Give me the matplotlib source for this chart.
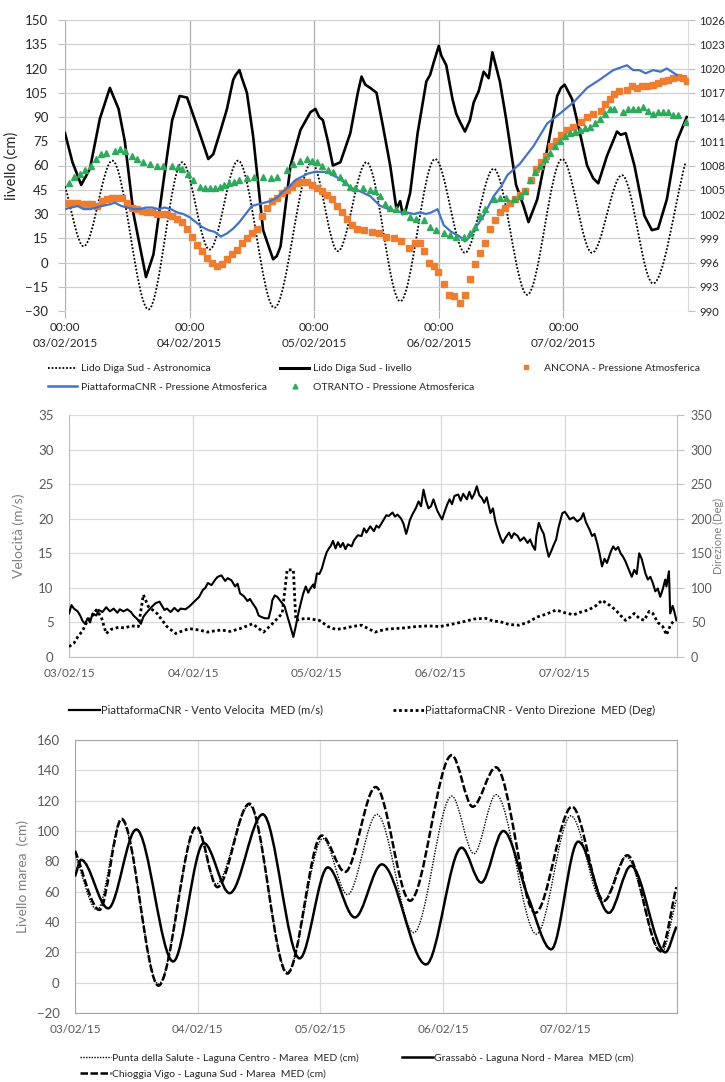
import numpy as np
import matplotlib
matplotlib.use("Agg")
import matplotlib.pyplot as plt
from matplotlib.path import Path
from matplotlib.patches import PathPatch
from matplotlib.lines import Line2D

plt.rcParams['font.family'] = ['Lato', 'DejaVu Sans']

# ---------------- DATA (x = days since 03/02/2015 00:00) ----------------
# Top panel
astro_t = [0.00, 0.15, 0.38, 0.67, 0.94, 1.16, 1.39, 1.68, 1.98, 2.19, 2.42,
           2.69, 2.97, 3.21, 3.44, 3.71, 3.99, 4.23, 4.47, 4.72, 4.98]
astro_v = [47, 10, 63, -29, 62, 8, 63, -28, 62, 7, 62,
           -24, 64, 6, 58, -20, 64, 6, 54, -13, 62]

liv_t = [0.00, 0.06, 0.13, 0.20, 0.28, 0.36, 0.43, 0.48, 0.55, 0.65, 0.71, 0.79,
         0.86, 0.92, 0.98, 1.08, 1.15, 1.19, 1.25, 1.30, 1.33, 1.35, 1.37, 1.40, 1.42,
         1.46, 1.51, 1.59, 1.67, 1.70, 1.73, 1.81, 1.89, 1.97, 2.01, 2.04, 2.07, 2.11,
         2.15, 2.21, 2.29, 2.35, 2.38, 2.41, 2.45, 2.50, 2.55, 2.61, 2.66, 2.69, 2.71,
         2.73, 2.77, 2.83, 2.90, 2.93, 2.96, 3.00, 3.02, 3.06, 3.11, 3.14, 3.17, 3.21,
         3.25, 3.28, 3.32, 3.36, 3.40, 3.43, 3.49, 3.54, 3.62, 3.68, 3.72, 3.79, 3.87,
         3.95, 3.98, 4.01, 4.07, 4.13, 4.19, 4.24, 4.28, 4.35, 4.43, 4.46, 4.50, 4.57,
         4.65, 4.71, 4.76, 4.83, 4.91, 4.99]
liv_v = [80, 62, 48, 58, 89, 108, 95, 75, 30, -9, 5, 50,
         88, 103, 102, 80, 64, 67, 82, 95, 106, 113, 116, 119, 114,
         105, 78, 20, 2, 4, 10, 60, 82, 93, 95, 90, 88, 75,
         60, 62, 80, 105, 115, 110, 108, 105, 85, 60, 33, 38, 30,
         31, 43, 80, 112, 116, 124, 134, 128, 122, 101, 92, 87, 81,
         88, 99, 106, 118, 114, 130, 112, 89, 48, 35, 25, 39, 70,
         103, 108, 110, 101, 81, 60, 52, 49, 66, 81, 79, 80, 60,
         29, 20, 21, 39, 75, 90]

ancona_t = [0.02, 0.06, 0.10, 0.14, 0.18, 0.22, 0.26, 0.30, 0.34, 0.38, 0.42, 0.46,
            0.50, 0.54, 0.58, 0.62, 0.66, 0.70, 0.74, 0.78, 0.82, 0.86, 0.90, 0.94,
            0.98, 1.02, 1.06, 1.10, 1.14, 1.18, 1.22, 1.26, 1.30, 1.34, 1.38, 1.42,
            1.46, 1.50, 1.54, 1.58, 1.62, 1.66, 1.70, 1.74, 1.78, 1.82, 1.86, 1.90,
            1.94, 1.98, 2.02, 2.06, 2.10, 2.14, 2.18, 2.22, 2.26, 2.30, 2.34, 2.40,
            2.46, 2.52, 2.58, 2.64, 2.70, 2.76, 2.81, 2.85, 2.88, 2.92, 2.96, 2.99,
            3.04, 3.08, 3.12, 3.17, 3.21, 3.25, 3.29, 3.33, 3.37, 3.41, 3.45, 3.49,
            3.53, 3.57, 3.61, 3.65, 3.69, 3.74, 3.78, 3.82, 3.86, 3.90, 3.94, 3.98,
            4.03, 4.08, 4.14, 4.19, 4.24, 4.30, 4.33, 4.37, 4.41, 4.45, 4.51, 4.55,
            4.59, 4.63, 4.67, 4.72, 4.76, 4.80, 4.84, 4.88, 4.92, 4.96, 4.995]
ancona_p = [1003.4, 1003.4, 1003.4, 1003.2, 1003.2, 1003.2, 1003.0, 1003.6, 1003.8, 1004.0, 1004.0, 1004.0,
            1003.4, 1002.8, 1002.6, 1002.4, 1002.2, 1002.2, 1002.0, 1002.0, 1002.0, 1001.8, 1001.4, 1001.0,
            1000.2, 999.2, 998.2, 997.4, 996.6, 996.0, 995.6, 995.8, 996.4, 997.0, 997.6, 998.4,
            999.0, 999.6, 1000.2, 1001.8, 1002.8, 1003.6, 1004.0, 1004.6, 1005.0, 1005.4, 1005.8, 1006.0,
            1006.0, 1005.6, 1005.2, 1004.8, 1004.4, 1003.8, 1003.0, 1002.2, 1001.4, 1000.6, 1000.2, 1000.0,
            999.8, 999.6, 999.2, 999.0, 998.6, 997.8, 998.4, 998.4, 997.4, 996.0, 995.6, 994.8,
            993.4, 992.0, 991.8, 991.0, 992.0, 994.0, 995.8, 997.2, 998.4, 1000.2, 1001.2, 1002.2,
            1002.8, 1003.4, 1003.8, 1004.4, 1004.8, 1006.2, 1007.6, 1008.4, 1009.2, 1010.4, 1011.0, 1011.8,
            1012.4, 1012.8, 1013.4, 1014.0, 1014.4, 1014.8, 1015.6, 1016.2, 1016.8, 1017.2, 1017.4, 1017.8,
            1017.6, 1017.8, 1017.8, 1018.0, 1018.2, 1018.4, 1018.6, 1018.8, 1019.0, 1018.8, 1018.4]

cnr_t = [0.00, 0.05, 0.10, 0.15, 0.20, 0.25, 0.30, 0.36, 0.40, 0.45, 0.50, 0.55, 0.60,
         0.65, 0.70, 0.75, 0.80, 0.85, 0.90, 0.95, 1.00, 1.05, 1.10, 1.15, 1.20, 1.25,
         1.30, 1.35, 1.40, 1.45, 1.50, 1.55, 1.60, 1.65, 1.70, 1.75, 1.80, 1.85, 1.90,
         1.95, 2.00, 2.05, 2.10, 2.15, 2.20, 2.25, 2.30, 2.37, 2.45, 2.53, 2.60, 2.64,
         2.70, 2.74, 2.80, 2.85, 2.90, 2.94, 2.99, 3.04, 3.10, 3.17, 3.21, 3.25, 3.30,
         3.36, 3.44, 3.50, 3.55, 3.65, 3.76, 3.87, 3.97, 4.08, 4.19, 4.29, 4.40, 4.51,
         4.56, 4.61, 4.66, 4.72, 4.78, 4.83, 4.87, 4.91]
cnr_p = [1002.6, 1002.8, 1003.0, 1002.6, 1002.6, 1002.8, 1003.0, 1003.2, 1003.4, 1003.0, 1002.8, 1002.6, 1002.6,
         1002.8, 1002.8, 1002.6, 1002.8, 1002.6, 1002.2, 1002.0, 1001.6, 1001.0, 1000.4, 1000.0, 999.8, 999.2,
         999.6, 1000.2, 1001.0, 1002.0, 1003.0, 1003.2, 1003.4, 1003.6, 1004.0, 1004.8, 1005.4, 1006.2, 1006.6,
         1007.0, 1007.2, 1007.2, 1007.2, 1006.8, 1006.4, 1005.8, 1005.2, 1004.8, 1004.2, 1003.0, 1002.6, 1002.4,
         1002.2, 1002.2, 1002.0, 1002.2, 1002.0, 1002.2, 1002.6, 1000.6, 999.8, 999.2, 998.6, 999.2, 1000.4,
         1001.8, 1004.2, 1005.4, 1006.8, 1008.2, 1010.4, 1013.2, 1014.4, 1015.8, 1017.6, 1018.6, 1019.8, 1020.4,
         1019.8, 1019.8, 1019.4, 1019.8, 1019.6, 1020.0, 1019.6, 1019.2]

otranto_t = [0.03, 0.07, 0.12, 0.16, 0.21, 0.25, 0.29, 0.33, 0.40, 0.44, 0.48, 0.54, 0.58,
             0.63, 0.68, 0.74, 0.79, 0.86, 0.91, 0.94, 0.99, 1.03, 1.08, 1.12, 1.16, 1.20,
             1.24, 1.28, 1.32, 1.36, 1.40, 1.46, 1.52, 1.59, 1.65, 1.70, 1.78, 1.83, 1.89,
             1.94, 1.98, 2.02, 2.06, 2.11, 2.15, 2.21, 2.25, 2.29, 2.33, 2.39, 2.45, 2.49,
             2.53, 2.57, 2.61, 2.66, 2.72, 2.77, 2.82, 2.88, 2.93, 2.98, 3.04, 3.09, 3.14,
             3.20, 3.25, 3.29, 3.33, 3.37, 3.44, 3.49, 3.54, 3.60, 3.65, 3.69, 3.73, 3.77,
             3.81, 3.85, 3.89, 3.93, 3.97, 4.01, 4.05, 4.09, 4.13, 4.17, 4.21, 4.25, 4.29,
             4.33, 4.37, 4.41, 4.48, 4.52, 4.56, 4.60, 4.64, 4.68, 4.72, 4.76, 4.80, 4.84,
             4.88, 4.92, 4.98]
otranto_p = [1005.8, 1006.6, 1007.0, 1007.4, 1008.0, 1008.8, 1009.4, 1009.6, 1009.8, 1010.0, 1009.8, 1009.2, 1008.8,
             1008.4, 1008.2, 1008.0, 1008.0, 1008.0, 1007.8, 1007.6, 1007.0, 1006.2, 1005.4, 1005.2, 1005.2, 1005.2,
             1005.4, 1005.6, 1005.8, 1006.0, 1006.2, 1006.4, 1006.6, 1006.6, 1006.4, 1006.6, 1007.4, 1008.2, 1008.6,
             1008.8, 1008.6, 1008.4, 1008.0, 1007.4, 1007.2, 1006.6, 1006.0, 1005.4, 1005.2, 1005.2, 1005.0, 1004.8,
             1004.2, 1003.2, 1002.8, 1002.6, 1002.4, 1001.6, 1001.4, 1001.2, 1000.4, 1000.0, 999.6, 999.4, 999.2,
             999.2, 999.6, 1000.4, 1001.8, 1002.6, 1003.8, 1004.0, 1004.0, 1003.8, 1004.2, 1004.8, 1006.2, 1007.2,
             1008.0, 1008.8, 1009.6, 1010.4, 1011.0, 1011.6, 1012.0, 1012.2, 1012.4, 1012.6, 1012.8, 1013.2, 1013.8,
             1014.4, 1015.0, 1015.0, 1014.6, 1015.0, 1015.0, 1015.0, 1015.2, 1014.8, 1014.4, 1014.6, 1014.6, 1014.6,
             1014.2, 1014.2, 1013.4]

top_xticklabels = ["00:00\n03/02/2015", "00:00\n04/02/2015", "00:00\n05/02/2015",
                   "00:00\n06/02/2015", "00:00\n07/02/2015"]

# Middle panel (wind)
vel_t = [0.00, 0.02, 0.04, 0.07, 0.09, 0.11, 0.13, 0.15, 0.17, 0.19, 0.22, 0.24, 0.27,
         0.30, 0.33, 0.36, 0.39, 0.41, 0.44, 0.47, 0.50, 0.52, 0.55, 0.58, 0.60, 0.62,
         0.65, 0.67, 0.70, 0.73, 0.75, 0.77, 0.79, 0.82, 0.85, 0.88, 0.90, 0.94, 0.97,
         1.01, 1.05, 1.08, 1.10, 1.12, 1.15, 1.18, 1.20, 1.23, 1.26, 1.28, 1.31, 1.34,
         1.36, 1.38, 1.41, 1.44, 1.46, 1.48, 1.51, 1.53, 1.55, 1.58, 1.61, 1.63, 1.64,
         1.66, 1.68, 1.71, 1.74, 1.76, 1.78, 1.80, 1.81, 1.83, 1.85, 1.87, 1.89, 1.91,
         1.93, 1.94, 1.97, 1.98, 2.00, 2.02, 2.04, 2.06, 2.08, 2.10, 2.11, 2.13, 2.15,
         2.17, 2.19, 2.21, 2.23, 2.25, 2.28, 2.30, 2.33, 2.36, 2.38, 2.40, 2.43, 2.46,
         2.48, 2.50, 2.53, 2.56, 2.58, 2.61, 2.63, 2.65, 2.68, 2.70, 2.72, 2.73, 2.75,
         2.77, 2.80, 2.82, 2.84, 2.86, 2.88, 2.90, 2.92, 2.94, 2.97, 2.99, 3.01, 3.03,
         3.05, 3.07, 3.09, 3.11, 3.14, 3.16, 3.18, 3.21, 3.23, 3.25, 3.27, 3.29, 3.31,
         3.33, 3.35, 3.37, 3.40, 3.42, 3.44, 3.46, 3.48, 3.50, 3.52, 3.55, 3.57, 3.59,
         3.62, 3.64, 3.67, 3.70, 3.72, 3.74, 3.76, 3.77, 3.79, 3.81, 3.83, 3.85, 3.87,
         3.89, 3.91, 3.93, 3.95, 3.98, 4.00, 4.02, 4.04, 4.07, 4.10, 4.13, 4.15, 4.17,
         4.20, 4.22, 4.24, 4.26, 4.28, 4.30, 4.32, 4.34, 4.37, 4.39, 4.41, 4.43, 4.45,
         4.47, 4.49, 4.51, 4.54, 4.56, 4.58, 4.60, 4.62, 4.64, 4.65, 4.67, 4.69, 4.71,
         4.73, 4.75, 4.77, 4.79, 4.81, 4.82, 4.84, 4.85, 4.87, 4.88, 4.90]
vel_v = [6.3, 7.5, 7.0, 6.6, 6.0, 5.2, 4.8, 5.6, 5.0, 6.3, 6.0, 6.8, 6.5,
         7.2, 6.6, 7.0, 6.4, 6.9, 6.6, 6.9, 6.5, 6.0, 5.5, 4.8, 5.8, 6.3,
         6.9, 7.3, 7.8, 8.0, 7.4, 6.8, 7.0, 6.5, 7.1, 6.6, 7.0, 6.9, 7.3,
         8.0, 8.7, 9.7, 10.0, 10.7, 10.4, 11.2, 11.6, 11.8, 11.0, 11.4, 11.1, 10.2,
         10.6, 9.2, 8.8, 8.1, 8.4, 7.8, 7.0, 6.0, 5.8, 5.6, 5.6, 7.0, 8.2,
         8.9, 8.7, 8.0, 7.3, 6.0, 4.8, 3.5, 2.9, 4.5, 6.3, 7.8, 9.2, 10.2,
         9.3, 9.7, 10.5, 10.0, 12.1, 12.0, 12.8, 14.1, 15.2, 15.8, 16.0, 16.8, 15.7,
         16.6, 15.9, 16.5, 15.6, 16.3, 16.0, 16.9, 17.6, 17.5, 18.6, 18.0, 18.9, 18.2,
         19.0, 18.7, 19.6, 20.5, 20.4, 20.9, 20.3, 20.6, 20.0, 19.2, 17.8, 18.4, 19.8,
         20.6, 21.6, 22.5, 21.8, 24.2, 22.6, 21.5, 21.8, 22.8, 21.2, 20.5, 19.9, 21.0,
         22.0, 22.8, 22.1, 23.3, 23.5, 22.6, 23.6, 22.8, 23.9, 22.9, 23.6, 24.7, 23.4,
         23.0, 22.3, 23.1, 20.8, 21.5, 19.6, 18.4, 17.3, 16.5, 17.2, 18.0, 17.2, 17.9,
         17.5, 16.8, 17.3, 16.5, 17.0, 16.1, 15.5, 17.5, 19.4, 18.5, 17.8, 16.0, 14.5,
         15.3, 16.2, 17.0, 18.8, 20.8, 21.0, 20.5, 19.9, 20.2, 19.6, 20.0, 20.8, 19.5,
         18.4, 17.5, 17.8, 16.5, 15.0, 13.1, 14.2, 13.6, 15.2, 16.0, 15.5, 15.9, 15.0,
         14.5, 13.8, 12.9, 11.6, 12.6, 12.0, 15.0, 14.2, 12.8, 12.1, 11.2, 11.6, 10.7,
         9.5, 9.9, 8.7, 9.8, 11.2, 10.2, 12.4, 6.3, 7.4, 6.8, 5.3]

dir_t = [0.00, 0.04, 0.07, 0.11, 0.15, 0.19, 0.22, 0.26, 0.30, 0.34, 0.40, 0.45, 0.50,
         0.56, 0.60, 0.64, 0.71, 0.79, 0.86, 0.92, 0.97, 1.05, 1.12, 1.18, 1.23, 1.30,
         1.38, 1.48, 1.57, 1.64, 1.72, 1.76, 1.81, 1.83, 1.91, 2.02, 2.09, 2.15, 2.21,
         2.28, 2.36, 2.47, 2.55, 2.62, 2.70, 2.80, 2.90, 2.99, 3.08, 3.18, 3.27, 3.36,
         3.42, 3.48, 3.55, 3.63, 3.70, 3.78, 3.85, 3.93, 4.00, 4.07, 4.13, 4.19, 4.25,
         4.30, 4.36, 4.41, 4.45, 4.49, 4.53, 4.56, 4.60, 4.64, 4.68, 4.71, 4.75, 4.79,
         4.82, 4.85, 4.88]
dir_v = [15, 20, 29, 38, 53, 60, 68, 58, 34, 40, 43, 42, 45,
         44, 90, 73, 63, 44, 34, 38, 41, 39, 36, 38, 39, 37,
         41, 48, 36, 48, 63, 126, 126, 53, 56, 53, 44, 40, 41,
         44, 46, 36, 40, 41, 42, 44, 45, 44, 47, 51, 55, 56,
         52, 51, 47, 46, 50, 58, 62, 68, 64, 61, 65, 68, 74,
         82, 75, 68, 60, 53, 58, 63, 56, 53, 66, 63, 50, 44,
         32, 45, 53]

mid_xticklabels = ["03/02/15", "04/02/15", "05/02/15", "06/02/15", "07/02/15"]

# Bottom panel (lagoon tide) - read peaks and troughs
salute_t = [0.00, 0.18, 0.38, 0.68, 0.99, 1.15, 1.42, 1.73, 2.02, 2.22, 2.46,
            2.76, 3.07, 3.25, 3.43, 3.76, 4.04, 4.30, 4.49, 4.78, 4.90]
salute_v = [85, 48, 107, -1, 102, 65, 117, 7, 95, 58, 111,
            33, 123, 85, 124, 32, 110, 53, 83, 20, 55]

grassabo_t = [0.00, 0.05, 0.27, 0.50, 0.80, 1.05, 1.26, 1.53, 1.83, 2.06, 2.28, 2.50,
              2.86, 3.15, 3.31, 3.49, 3.69, 3.88, 4.10, 4.35, 4.53, 4.81, 4.90]
grassabo_v = [70, 81, 49, 101, 14, 92, 59, 111, 16, 76, 43, 78,
              12, 89, 66, 100, 57, 22, 93, 46, 77, 20, 37]

chioggia_t = [0.00, 0.20, 0.38, 0.68, 0.99, 1.16, 1.42, 1.73, 2.01, 2.20, 2.45,
              2.73, 3.07, 3.24, 3.43, 3.75, 4.05, 4.31, 4.50, 4.77, 4.90]
chioggia_v = [87, 48, 108, -2, 103, 63, 118, 6, 97, 73, 129,
              54, 150, 116, 142, 46, 116, 54, 84, 21, 63]

bot_xticklabels = ["03/02/15", "04/02/15", "05/02/15", "06/02/15", "07/02/15"]

# ---------------- helpers ----------------
W, H = 725, 1082


def box(l, t, r, b):
    return [l / W, 1 - b / H, (r - l) / W, (b - t) / H]


def pt(x, y):
    return (x / W, 1 - y / H)


def smooth_path(x, y):
    x = np.asarray(x, float)
    y = np.asarray(y, float)
    h = np.diff(x)
    d = np.diff(y) / h
    n = len(x)
    m = np.zeros(n)
    m[0], m[-1] = d[0], d[-1]
    for k in range(1, n - 1):
        if d[k - 1] * d[k] <= 0:
            m[k] = 0.0
        else:
            w1 = 2 * h[k] + h[k - 1]
            w2 = h[k] + 2 * h[k - 1]
            m[k] = (w1 + w2) / (w1 / d[k - 1] + w2 / d[k])
    verts = [(x[0], y[0])]
    codes = [Path.MOVETO]
    for k in range(n - 1):
        verts += [(x[k] + h[k] / 3, y[k] + m[k] * h[k] / 3),
                  (x[k + 1] - h[k] / 3, y[k + 1] - m[k + 1] * h[k] / 3),
                  (x[k + 1], y[k + 1])]
        codes += [Path.CURVE4] * 3
    return Path(verts, codes)


def add_smooth(ax, x, y, **kw):
    ax.add_patch(PathPatch(smooth_path(x, y), fill=False, transform=ax.transData, **kw))


BLUE = '#4472C4'
ORANGE = '#ED7D31'
GREEN = '#2EAA5C'
TXT = '#262626'
GRAYTXT = '#595959'
LBLGRAY = '#7F7F7F'

fig = plt.figure(figsize=(W / 100, H / 100), dpi=100)

# ---------------- TOP PANEL ----------------
ax1 = fig.add_axes(box(65, 20, 688, 311))
ax1.set_xlim(0, 5.0)
ax1.set_ylim(-30, 150)
ax1.set_yticks(np.arange(-30, 151, 15))
ax1.set_xticks(range(5))
ax1.set_xticklabels(top_xticklabels, fontsize=8.5, color=TXT, linespacing=1.5)
ax1.grid(axis='y', color='#D0D0D0', lw=0.9)
ax1.grid(axis='x', color='#ADADAD', lw=0.9)
ax1.set_axisbelow(True)
for s in ax1.spines.values():
    s.set_visible(False)
ax1.tick_params(axis='y', length=5, color='#BFBFBF', pad=7, labelsize=9.5, labelcolor=TXT)
ax1.tick_params(axis='x', length=5, color='#ADADAD', pad=3, labelcolor=TXT)
ax1.set_ylabel("livello (cm)", fontsize=10.5, color=TXT)
ax1.yaxis.set_label_coords(-0.075, 0.5)

add_smooth(ax1, astro_t, astro_v, edgecolor='black', linewidth=1.3,
           linestyle=(0, (1, 1)), zorder=3)
ax1.plot(liv_t, liv_v, color='black', lw=1.9, zorder=4)

ax1r = ax1.twinx()
ax1r.set_ylim(990, 1026)
ax1r.set_yticks(np.arange(990, 1027, 3))
ax1r.set_yticklabels([str(v) for v in range(990, 1027, 3)])
for s in ax1r.spines.values():
    s.set_visible(False)
ax1r.spines['right'].set_visible(True)
ax1r.spines['right'].set_color('#D9D9D9')
ax1r.tick_params(axis='y', length=5, color='#BFBFBF', pad=3, labelsize=8, labelcolor=TXT)
ax1r.plot(ancona_t, ancona_p, ls='none', marker='s', ms=4.2, color=ORANGE, mec=ORANGE, zorder=3)
ax1r.plot(cnr_t, cnr_p, color=BLUE, lw=1.6, zorder=4)
ax1r.plot(otranto_t, otranto_p, ls='none', marker='^', ms=4.2, color=GREEN, mec=GREEN, zorder=5)

h_astro = Line2D([], [], color='black', lw=1.3, ls=(0, (1, 1)))
h_liv = Line2D([], [], color='black', lw=2.2)
h_anc = Line2D([], [], ls='none', marker='s', ms=3.5, color=ORANGE)
h_cnr = Line2D([], [], color=BLUE, lw=1.8)
h_otr = Line2D([], [], ls='none', marker='^', ms=3.5, color=GREEN)
legkw = dict(frameon=False, fontsize=7.5, borderpad=0, borderaxespad=0,
             handlelength=2.8, handletextpad=0.35, labelspacing=0.9, labelcolor=TXT)
fig.legend([h_astro, h_cnr], ["Lido Diga Sud - Astronomica", "PiattaformaCNR - Pressione Atmosferica"],
           loc='center left', bbox_to_anchor=pt(48, 378), **legkw)
fig.legend([h_liv, h_otr], ["Lido Diga Sud - livello", "OTRANTO - Pressione Atmosferica"],
           loc='center left', bbox_to_anchor=pt(280, 378), **legkw)
fig.legend([h_anc], ["ANCONA - Pressione Atmosferica"],
           loc='center left', bbox_to_anchor=pt(511, 368), **legkw)

# ---------------- MIDDLE PANEL ----------------
ax2 = fig.add_axes(box(69, 415, 677, 657))
ax2.set_xlim(0, 4.905)
ax2.set_ylim(0, 35)
ax2.set_yticks(range(0, 36, 5))
ax2.set_xticks(range(5))
ax2.set_xticklabels(mid_xticklabels, fontsize=8.5, color=GRAYTXT)
ax2.grid(color='#D9D9D9', lw=0.9)
ax2.set_axisbelow(True)
ax2.spines['top'].set_visible(False)
for k in ('left', 'right', 'bottom'):
    ax2.spines[k].set_color('#BFBFBF')
ax2.tick_params(axis='y', length=0, pad=11, labelsize=9.5, labelcolor=GRAYTXT)
ax2.tick_params(axis='x', length=0, pad=8, labelcolor=GRAYTXT)
ax2.set_ylabel("Velocità (m/s)", fontsize=10, color=LBLGRAY)
ax2.yaxis.set_label_coords(-0.072, 0.5)
ax2.plot(vel_t, vel_v, color='black', lw=1.5, zorder=4)

ax2r = ax2.twinx()
ax2r.set_ylim(0, 350)
ax2r.set_yticks(range(0, 351, 50))
for s in ax2r.spines.values():
    s.set_visible(False)
ax2r.tick_params(axis='y', length=5, color='#BFBFBF', pad=5, labelsize=9, labelcolor=GRAYTXT)
ax2r.plot(dir_t, dir_v, color='black', lw=2.0, ls=(0, (1, 1)), zorder=3)
ax2r.set_ylabel("Direzione (Deg)", fontsize=8, color=LBLGRAY, rotation=90)
ax2r.yaxis.set_label_coords(1.059, 0.5)

h_vel = Line2D([], [], color='black', lw=1.6)
h_dir = Line2D([], [], color='black', lw=2.0, ls=(0, (1, 1)))
legkw2 = dict(frameon=False, fontsize=8, borderpad=0, borderaxespad=0,
              handlelength=2.8, handletextpad=0.1, labelcolor=TXT)
fig.legend([h_vel], ["PiattaformaCNR - Vento Velocita  MED (m/s)"],
           loc='center left', bbox_to_anchor=pt(69, 710), **legkw2)
fig.legend([h_dir], ["PiattaformaCNR - Vento Direzione  MED (Deg)"],
           loc='center left', bbox_to_anchor=pt(393, 710), **legkw2)

# ---------------- BOTTOM PANEL ----------------
ax3 = fig.add_axes(box(75, 740, 677, 1013))
ax3.set_xlim(0, 4.905)
ax3.set_ylim(-20, 160)
ax3.set_yticks(range(-20, 161, 20))
ax3.set_xticks(range(5))
ax3.set_xticklabels(bot_xticklabels, fontsize=8.5, color=GRAYTXT)
ax3.grid(color='#D9D9D9', lw=0.9)
ax3.set_axisbelow(True)
for s in ax3.spines.values():
    s.set_color('#A6A6A6')
ax3.tick_params(axis='y', length=0, pad=11, labelsize=9.5, labelcolor=GRAYTXT)
ax3.tick_params(axis='x', length=0, pad=8, labelcolor=GRAYTXT)
ax3.set_ylabel("Livello marea  (cm)", fontsize=10, color=LBLGRAY)
ax3.yaxis.set_label_coords(-0.076, 0.5)

add_smooth(ax3, salute_t, salute_v, edgecolor='black', linewidth=1.0,
           linestyle=(0, (1, 1)), zorder=3)
add_smooth(ax3, grassabo_t, grassabo_v, edgecolor='black', linewidth=1.8, zorder=4)
add_smooth(ax3, chioggia_t, chioggia_v, edgecolor='black', linewidth=1.8,
           linestyle=(0, (3, 1)), zorder=5)

h_sal = Line2D([], [], color='black', lw=1.0, ls=(0, (1, 1)))
h_gra = Line2D([], [], color='black', lw=1.8)
h_chi = Line2D([], [], color='black', lw=1.8, ls=(0, (3, 1)))
legkw3 = dict(frameon=False, fontsize=7.5, borderpad=0, borderaxespad=0,
              handlelength=3.0, handletextpad=0.1, labelspacing=0.6, labelcolor=TXT)
fig.legend([h_sal, h_chi], ["Punta della Salute - Laguna Centro - Marea  MED (cm)",
                            "Chioggia Vigo - Laguna Sud - Marea  MED (cm)"],
           loc='center left', bbox_to_anchor=pt(80, 1066), **legkw3)
fig.legend([h_gra], ["Grassabò - Laguna Nord - Marea  MED (cm)"],
           loc='center left', bbox_to_anchor=pt(402, 1058), **legkw3)

fig.savefig("out.png", dpi=100)
